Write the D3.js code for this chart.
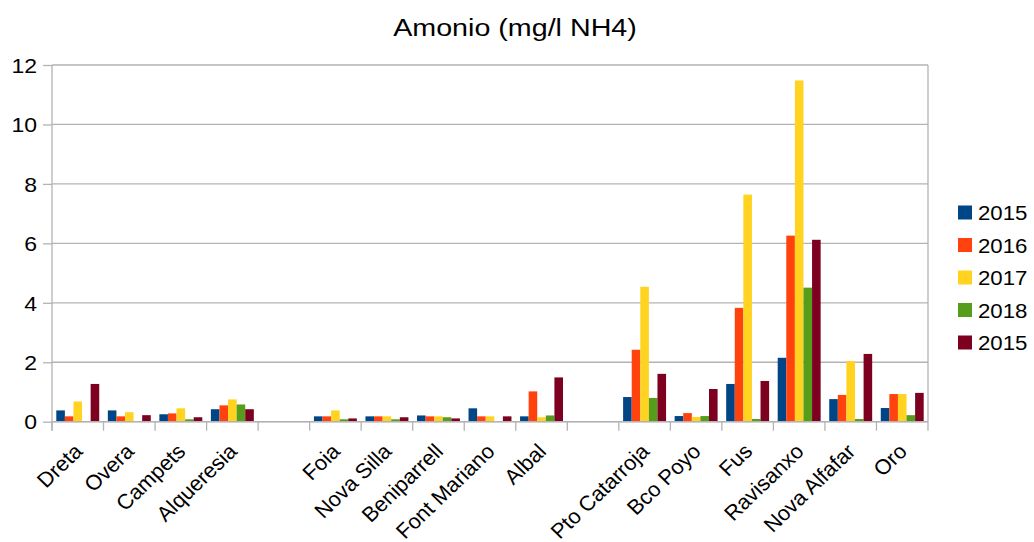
<!DOCTYPE html>
<html>
<head>
<meta charset="utf-8">
<script src="https://cdn.jsdelivr.net/npm/d3@7"></script>
<style>
  html, body { margin: 0; padding: 0; background: #fff; }
  svg { display: block; font-family: "Liberation Sans", Arial, sans-serif; }
</style>
</head>
<body>
<svg id="chart" width="1034" height="542"></svg>
<script>
const title = "Amonio (mg/l NH4)";
const categories = ["Dreta", "Overa", "Campets", "Alqueresia", "",
  "Foia", "Nova Silla", "Beniparrell", "Font Mariano", "Albal", "",
  "Pto Catarroja", "Bco Poyo", "Fus", "Ravisanxo", "Nova Alfafar", "Oro"];
const seriesNames = ["2015", "2016", "2017", "2018", "2015"];
const seriesColors = ["#004586", "#ff420e", "#ffd320", "#579d1c", "#7e0021"];
const s2015 = [0.38, 0.38, 0.25, 0.42, null, 0.18, 0.18, 0.21, 0.45, 0.18, null, 0.83, 0.19, 1.27, 2.15, 0.76, 0.46];
const s2016 = [0.18, 0.18, 0.28, 0.55, null, 0.18, 0.18, 0.18, 0.18, 1.02, null, 2.42, 0.29, 3.83, 6.26, 0.90, 0.93];
const s2017 = [0.68, 0.32, 0.45, 0.75, null, 0.38, 0.18, 0.18, 0.18, 0.15, null, 4.54, 0.16, 7.64, 11.48, 2.04, 0.93];
const s2018 = [null, null, 0.08, 0.58, null, 0.08, 0.08, 0.15, null, 0.21, null, 0.80, 0.19, 0.09, 4.51, 0.09, 0.22];
const s2015b = [1.27, 0.22, 0.15, 0.42, null, 0.11, 0.15, 0.11, 0.18, 1.49, null, 1.61, 1.10, 1.37, 6.12, 2.28, 0.97];
const yTicks = [0, 2, 4, 6, 8, 10, 12];

const seriesValues = [s2015, s2016, s2017, s2018, s2015b];
const svg = d3.select("#chart");
const pLeft = 52, pRight = 928, pTop = 65, pBottom = 421.7;
const gridColor = "#b3b3b3";
const FONT = "Liberation Sans, Arial, sans-serif";

const slots = categories.map((c, i) => i);
const x = d3.scaleBand().domain(slots).range([pLeft, pRight]).paddingInner(0).paddingOuter(0);
const xs = d3.scaleBand().domain(d3.range(seriesNames.length)).range([0, x.bandwidth()]).paddingInner(0).paddingOuter(0.5);
const y = d3.scaleLinear().domain([0, 12]).range([pBottom, pTop]);

// gridlines
svg.append("g").selectAll("line").data(yTicks).join("line")
  .attr("x1", pLeft).attr("x2", pRight)
  .attr("y1", d => y(d)).attr("y2", d => y(d))
  .attr("stroke", gridColor).attr("stroke-width", 1.3);
// right wall border
svg.append("line").attr("x1", pRight).attr("x2", pRight).attr("y1", pTop).attr("y2", pBottom)
  .attr("stroke", gridColor).attr("stroke-width", 1.3);

// bars
const rows = [];
seriesValues.forEach((vals, si) => vals.forEach((v, ci) => { if (v != null) rows.push({si, ci, v}); }));
svg.append("g").selectAll("rect").data(rows).join("rect")
  .attr("x", d => x(d.ci) + xs(d.si))
  .attr("width", xs.bandwidth())
  .attr("y", d => y(d.v))
  .attr("height", d => y(0) - y(d.v))
  .attr("fill", d => seriesColors[d.si]);

// y axis
const yAxis = d3.axisLeft(y).tickValues(yTicks).tickSize(9).tickPadding(0).tickFormat(d3.format("d"));
const gy = svg.append("g").attr("transform", `translate(${pLeft},0)`).call(yAxis);
gy.select(".domain").remove();
gy.selectAll(".tick line").attr("stroke", gridColor).attr("stroke-width", 1.3);
gy.selectAll(".tick text").attr("font-size", 20).attr("fill", "#000")
  .attr("font-family", FONT).attr("x", 0).attr("dy", "0.36em").attr("text-anchor", "end")
  .attr("transform", "translate(-15,0) scale(1.15,1)");
svg.append("line").attr("x1", pLeft).attr("x2", pLeft).attr("y1", pTop).attr("y2", pBottom + 9)
  .attr("stroke", gridColor).attr("stroke-width", 1.3);

// x axis baseline and boundary ticks
svg.append("line").attr("x1", pLeft).attr("x2", pRight).attr("y1", pBottom).attr("y2", pBottom)
  .attr("stroke", gridColor).attr("stroke-width", 1.6);
const bounds = slots.map(i => x(i)).concat([x(slots[slots.length - 1]) + x.bandwidth()]);
svg.append("g").selectAll("line").data(bounds).join("line")
  .attr("x1", d => d).attr("x2", d => d).attr("y1", pBottom).attr("y2", pBottom + 9)
  .attr("stroke", gridColor).attr("stroke-width", 1.3);

// category labels via axis
const xAxis = d3.axisBottom(x).tickSize(0).tickFormat(i => categories[i]);
const gx = svg.append("g").attr("transform", `translate(0,${pBottom})`).call(xAxis);
gx.select(".domain").remove();
gx.selectAll(".tick text")
  .attr("font-size", 21).attr("fill", "#000").attr("font-family", FONT)
  .attr("text-anchor", "end").attr("x", 0).attr("y", 0).attr("dy", 0)
  .attr("transform", "translate(6,31) scale(1.04,1) rotate(-45)");

// title
svg.append("text").attr("text-anchor", "middle")
  .attr("transform", "translate(515,36) scale(1.17,1)")
  .attr("font-size", 24.5).attr("fill", "#000").attr("font-family", FONT).text(title);

// legend
const lg = svg.append("g").selectAll("g").data(seriesNames).join("g")
  .attr("transform", (d, i) => `translate(958,${212.5 + i * 32.5})`);
lg.append("rect").attr("x", 0).attr("y", -7).attr("width", 14).attr("height", 14)
  .attr("fill", (d, i) => seriesColors[i]);
lg.append("text").attr("transform", "translate(20,0) scale(1.06,1)").attr("dy", "0.36em")
  .attr("font-size", 21).attr("fill", "#000").attr("font-family", FONT).text(d => d);
</script>
</body>
</html>
